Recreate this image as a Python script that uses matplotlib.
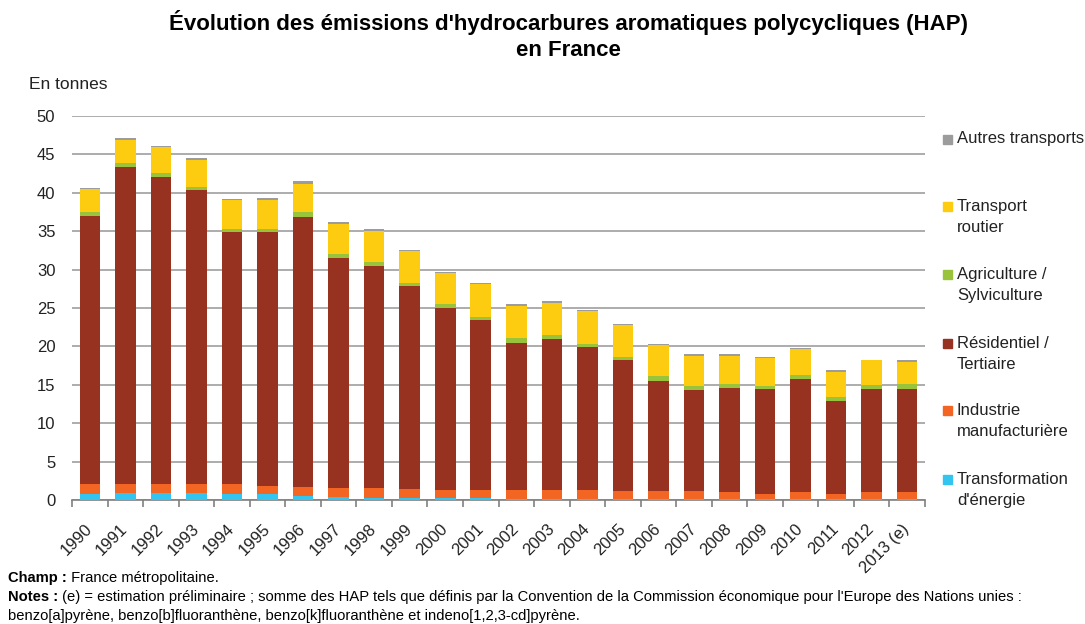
import numpy as np
import matplotlib
matplotlib.use('Agg')
import matplotlib.pyplot as plt
from matplotlib.patches import Rectangle

plt.rcParams['font.family'] = ['Liberation Sans', 'DejaVu Sans']

# emissions de HAP par secteur, en tonnes
annees = ['1990', '1991', '1992', '1993', '1994', '1995', '1996', '1997', '1998',
          '1999', '2000', '2001', '2002', '2003', '2004', '2005', '2006', '2007',
          '2008', '2009', '2010', '2011', '2012', '2013 (e)']

transformation = [0.75, 0.87, 0.87, 0.87, 0.74, 0.74, 0.56, 0.39, 0.30, 0.30, 0.30, 0.30,
                  0.13, 0.13, 0.13, 0.12, 0.12, 0.10, 0.10, 0.10, 0.10, 0.10, 0.10, 0.10]
industrie = [1.29, 1.17, 1.17, 1.17, 1.30, 1.12, 1.18, 1.22, 1.31, 1.13, 1.00, 1.00,
             1.17, 1.17, 1.17, 1.05, 1.05, 1.07, 0.90, 0.72, 0.90, 0.72, 0.90, 0.90]
residentiel = [35.00, 41.36, 40.06, 38.26, 32.86, 33.04, 35.16, 29.94, 28.89, 26.43, 23.70, 22.10,
               19.10, 19.60, 18.60, 17.03, 14.38, 13.13, 13.60, 13.63, 14.80, 12.08, 13.45, 13.45]
agriculture = [0.45, 0.50, 0.50, 0.50, 0.40, 0.40, 0.60, 0.45, 0.45, 0.40, 0.50, 0.40,
               0.65, 0.60, 0.45, 0.46, 0.60, 0.55, 0.50, 0.45, 0.50, 0.55, 0.50, 0.65]
routier = [2.95, 3.00, 3.30, 3.50, 3.70, 3.80, 3.70, 4.00, 4.10, 4.20, 4.05, 4.30,
           4.25, 4.20, 4.25, 4.14, 4.00, 3.95, 3.70, 3.60, 3.35, 3.25, 3.27, 2.90]
autres = [0.15, 0.20, 0.20, 0.20, 0.20, 0.20, 0.30, 0.17, 0.20, 0.15, 0.15, 0.15,
          0.20, 0.20, 0.15, 0.13, 0.15, 0.17, 0.17, 0.10, 0.15, 0.20, 0.05, 0.20]

series = [
    ("Transformation\nd'énergie", transformation, '#33c5f0'),
    ('Industrie\nmanufacturière', industrie, '#f26522'),
    ('Résidentiel /\nTertiaire', residentiel, '#96321f'),
    ('Agriculture /\nSylviculture', agriculture, '#99c33b'),
    ('Transport\nroutier', routier, '#fdcb10'),
    ('Autres transports', autres, '#9c9c9c'),
]

fig = plt.figure(figsize=(10.85, 6.24), dpi=100)
ax = fig.add_axes([0.0664, 0.1987, 0.7861, 0.6154])

x = np.arange(len(annees))
bas = np.zeros(len(annees))
for nom, vals, coul in series:
    ax.bar(x, vals, 0.58, bottom=bas, color=coul, edgecolor='none', zorder=3)
    bas += np.array(vals)

ax.set_xlim(-0.5, len(annees) - 0.5)
ax.set_ylim(0, 50)
ax.set_yticks(range(0, 51, 5))
ax.yaxis.grid(True, color='#a6a6a6', linewidth=1.3, zorder=0)
ax.tick_params(axis='y', length=0, labelsize=12, pad=12, labelcolor='#222222')

ax.set_xticks(x)
ax.set_xticklabels(annees, rotation=45, ha='right', va='center', rotation_mode='anchor',
                   fontsize=12, color='#222222')
ax.set_xticks(np.arange(-0.5, len(annees)), minor=True)
ax.tick_params(axis='x', which='major', length=0, pad=19)
ax.tick_params(axis='x', which='minor', length=5, width=1.2, color='#808080',
               direction='out')

for s in ['top', 'right', 'left']:
    ax.spines[s].set_visible(False)
ax.spines['bottom'].set_color('#808080')
ax.spines['bottom'].set_linewidth(1.2)

fig.text(0.0267, 0.857, 'En tonnes', fontsize=12.5, color='#222222')

fig.text(0.524, 0.984, "Évolution des émissions d'hydrocarbures aromatiques polycycliques (HAP)\nen France",
         ha='center', va='top', fontsize=16, fontweight='bold', linespacing=1.3)

# legende a droite
leg_y = [139, 217, 285, 354, 421, 490]
for (nom, vals, coul), yp in zip(series[::-1], leg_y):
    ypos = 1 - yp / 624
    nl = nom.count('\n')
    yc = ypos + (0.0172 if nl else 0)
    fig.patches.append(Rectangle((943 / 1085, yc - 0.0078), 9 / 1085, 9 / 624,
                                 transform=fig.transFigure, color=coul))
    fig.text(957 / 1085, ypos, nom, fontsize=12, va='center', color='#222222',
             linespacing=1.45)

# notes de bas de page
lignes = [
    ('Champ :', ' France métropolitaine.'),
    ('Notes :', " (e) = estimation préliminaire ; somme des HAP tels que définis par la Convention de la Commission économique pour l'Europe des Nations unies :"),
    ('', 'benzo[a]pyrène, benzo[b]fluoranthène, benzo[k]fluoranthène et indeno[1,2,3-cd]pyrène.'),
]
r = fig.canvas.get_renderer()
for i, (gras, reste) in enumerate(lignes):
    yl = 1 - (578 + 19 * i) / 624
    x0 = 8 / 1085
    if gras:
        t = fig.text(x0, yl, gras, fontsize=10.6, fontweight='bold', va='center')
        bb = t.get_window_extent(renderer=r)
        x0 = bb.x1 / fig.bbox.width
    fig.text(x0, yl, reste, fontsize=10.6, va='center')

fig.savefig('out.png', dpi=100)
